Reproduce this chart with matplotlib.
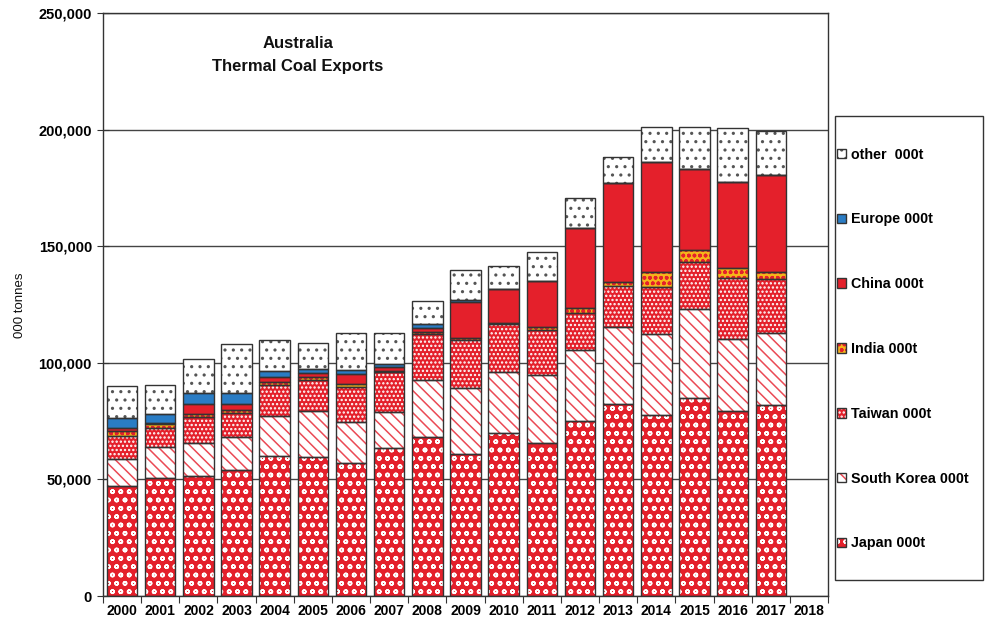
import numpy as np
import matplotlib
matplotlib.use('Agg')
import matplotlib.pyplot as plt
from matplotlib.patches import Patch, Rectangle
from matplotlib.ticker import FuncFormatter

plt.rcParams['font.family'] = ['Liberation Sans', 'DejaVu Sans']
plt.rcParams['hatch.linewidth'] = 1.1

# ---- data (000 tonnes) ----
categories = ['2000', '2001', '2002', '2003', '2004', '2005', '2006', '2007', '2008',
              '2009', '2010', '2011', '2012', '2013', '2014', '2015', '2016', '2017', '2018']
japan = [47000, 50500, 51500, 54000, 60000, 59700, 57200, 63300, 68300,
         60700, 69700, 65500, 75200, 82300, 77600, 84700, 79300, 81900]
south_korea = [11700, 13300, 14200, 14300, 17300, 19700, 17300, 15700, 24300,
               28700, 26400, 29300, 30300, 32900, 34700, 38400, 30800, 30700]
taiwan = [9900, 8400, 10900, 10000, 13200, 13100, 15100, 17000, 19700,
          20300, 20600, 19200, 15900, 17800, 20000, 20200, 26300, 23500]
india = [2100, 1600, 1400, 1400, 1400, 1400, 1100, 600, 900,
         1000, 300, 1200, 2000, 1500, 6700, 5000, 4300, 2800]
china = [1400, 500, 4300, 2600, 2100, 1600, 4300, 1800, 1900,
         15300, 14500, 20000, 34300, 42700, 47200, 35000, 37000, 41600]
europe = [4100, 3700, 4800, 4800, 2600, 1700, 1900, 1100, 1700,
          900, 0, 0, 0, 0, 0, 0, 0, 0]
other = [13800, 12500, 14500, 20800, 13100, 11100, 15700, 13300, 9700,
         13100, 9900, 12200, 13100, 11000, 15000, 18000, 22800, 19000]

series_names = ['Japan 000t', 'South Korea 000t', 'Taiwan 000t', 'India 000t',
                'China 000t', 'Europe 000t', 'other  000t']
series_values = [japan, south_korea, taiwan, india, china, europe, other]

RED = '#e4202b'
styles = [
    dict(fc=RED, hc='white', hatch='oo'),           # Japan
    dict(fc='white', hc='#ea4a55', hatch='\\\\\\'), # South Korea
    dict(fc=RED, hc='white', hatch='....'),         # Taiwan
    dict(fc='#f6b41a', hc=RED, hatch='ooo'),        # India
    dict(fc=RED, hc=RED, hatch=None),               # China
    dict(fc='#2a7cc4', hc='#2a7cc4', hatch=None),   # Europe
    dict(fc='white', hc='#555555', hatch='..'),     # other
]
EDGE = '#333333'

fig = plt.figure(figsize=(9.85, 6.22), dpi=100)
ax = fig.add_axes([103/985, 1-596/622, (828-103)/985, (596-13)/622])

x = np.arange(len(japan))
bottom = np.zeros(len(japan))
for vals, st in zip(series_values, styles):
    vals = np.array(vals, dtype=float)
    ax.bar(x, vals, 0.8, bottom=bottom, color=st['fc'], edgecolor=st['hc'],
           hatch=st['hatch'], linewidth=0, zorder=2)
    ax.bar(x, vals, 0.8, bottom=bottom, fill=False, edgecolor=EDGE,
           linewidth=1.0, zorder=3)
    bottom += vals

ax.set_xlim(-0.5, len(categories) - 0.5)
ax.set_ylim(0, 250000)
ax.set_yticks(np.arange(0, 250001, 50000))
ax.yaxis.set_major_formatter(FuncFormatter(lambda v, p: f'{v:,.0f}'))
ax.yaxis.grid(True, color='#444444', linewidth=1.0)
ax.set_axisbelow(True)

ax.set_xticks(np.arange(-0.5, len(categories), 1.0))
ax.set_xticklabels([])
ax.set_xticks(np.arange(len(categories)), minor=True)
ax.set_xticklabels(categories, minor=True, fontsize=10, fontweight='bold')
ax.tick_params(axis='x', which='major', direction='out', length=5, color=EDGE)
ax.tick_params(axis='x', which='minor', length=0, pad=6)
ax.tick_params(axis='y', direction='inout', length=8, color=EDGE, pad=4,
               labelsize=10.5)
for lab in ax.get_yticklabels():
    lab.set_fontweight('bold')
for sp in ax.spines.values():
    sp.set_color(EDGE)
    sp.set_linewidth(1.0)

fig.text(298/985, 1-43/622, 'Australia', ha='center', va='center',
         fontsize=12, fontweight='bold', color='#111111')
fig.text(298/985, 1-67/622, 'Thermal Coal Exports', ha='center', va='center',
         fontsize=12, fontweight='bold', color='#111111')
fig.text(20/985, 1-305/622, '000 tonnes', rotation=90, ha='center', va='center',
         fontsize=9.5, color='#111111')

# legend (top to bottom: other ... Japan)
handles = []
for st in styles:
    h1 = Patch(facecolor=st['fc'], edgecolor=st['hc'], hatch=st['hatch'], linewidth=0)
    h2 = Patch(fill=False, edgecolor=EDGE, linewidth=1.0)
    handles.append((h1, h2))
handles = handles[::-1]
labels = series_names[::-1]
fig.legend(handles, labels, loc='center left', bbox_to_anchor=(830/985, 1-349/622),
           frameon=False, borderpad=0, labelspacing=3.55, handlelength=0.65,
           handleheight=0.65, handletextpad=0.3,
           prop={'weight': 'bold', 'size': 10.3})
fig.add_artist(Rectangle((835/985, 1-580/622), 148/985, 464/622,
                         transform=fig.transFigure, fill=False,
                         edgecolor=EDGE, linewidth=1.0))

fig.savefig('out.png', dpi=100)
